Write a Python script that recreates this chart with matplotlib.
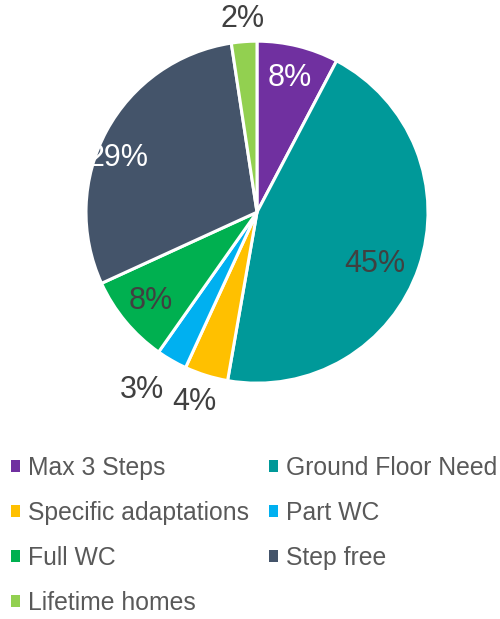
import matplotlib
matplotlib.use("Agg")
import matplotlib.pyplot as plt
import numpy as np

categories = ["Max 3 Steps", "Ground Floor Need", "Specific adaptations", "Part WC",
              "Full WC", "Step free", "Lifetime homes"]
shares = [7.7, 45.0, 4.1, 2.9, 8.4, 29.4, 2.4]
colors = ["#7030A0", "#009999", "#FFC000", "#00B0F0", "#00B050", "#44546A", "#92D050"]
label_colors = ["white", "#404040", "#404040", "#404040", "#404040", "white", "#404040"]
# label placement: distance from centre (in radii) and angle nudge (degrees)
label_dist = [0.81, 0.75, 1.17, 1.24, 0.81, 0.87, 1.13]
label_nudge = [0, -5, -1, -3, 0, 7, 0]

plt.rcParams["font.family"] = ["Liberation Sans", "DejaVu Sans"]

fig = plt.figure(figsize=(5.0, 6.19), dpi=100)
ax = fig.add_axes([0.172, 0.381, 0.684, 0.5525])
wedges, texts = ax.pie(shares, colors=colors, startangle=90, counterclock=False,
                       radius=1.0, wedgeprops=dict(edgecolor="white", linewidth=2.2))
total = sum(shares)
for w, v, c, d, n in zip(wedges, shares, label_colors, label_dist, label_nudge):
    ang = np.deg2rad((w.theta1 + w.theta2) / 2 + n)
    ax.text(d * np.cos(ang), d * np.sin(ang), f"{v / total * 100:.0f}%",
            ha="center", va="center", fontsize=22, color=c)
ax.set_xlim(-1, 1)
ax.set_ylim(-1, 1)
ax.set_aspect("equal")
ax.axis("off")

# legend filled column-wise, so reorder to read row by row like the original
order = [0, 2, 4, 6, 1, 3, 5]
leg = fig.legend([wedges[i] for i in order], [categories[i] for i in order],
                 loc="upper left", bbox_to_anchor=(0.022, 0.263), ncol=2,
                 frameon=False, borderpad=0, borderaxespad=0,
                 fontsize=17.8, handlelength=0.37, handleheight=0.37,
                 handletextpad=0.32, columnspacing=0.8, labelspacing=0.85,
                 labelcolor="#595959")
for h in leg.legend_handles:
    h.set_linewidth(0)

fig.savefig("out.png", dpi=100)
